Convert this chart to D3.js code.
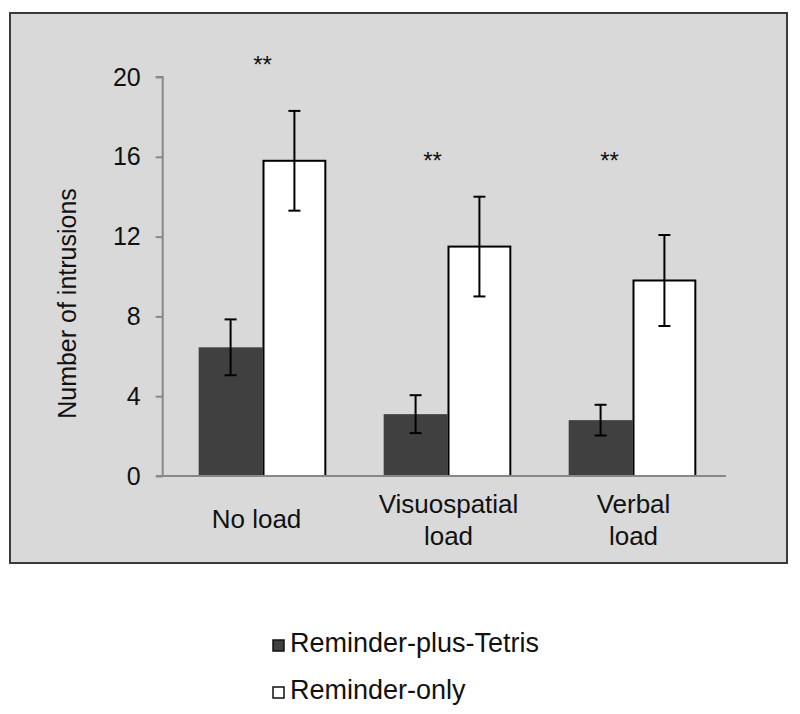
<!DOCTYPE html>
<html>
<head>
<meta charset="utf-8">
<script src="https://cdn.jsdelivr.net/npm/d3@7"></script>
<style>
  html, body { margin: 0; padding: 0; background: #ffffff; }
  svg { display: block; font-family: "Liberation Sans", Arial, Helvetica, sans-serif; }
</style>
</head>
<body>
<svg id="chart" width="800" height="714"></svg>
<script>
// ---- data ----
const categories = [["No load"], ["Visuospatial", "load"], ["Verbal", "load"]];
const seriesNames = ["Reminder-plus-Tetris", "Reminder-only"];
const tetrisMeans = [6.45, 3.1, 2.8];
const tetrisErrors = [1.4, 0.95, 0.77];
const reminderMeans = [15.8, 11.5, 9.8];
const reminderErrors = [2.5, 2.5, 2.28];
const significance = ["**", "**", "**"];
const yTicks = [0, 4, 8, 12, 16, 20];

// ---- layout ----
const svg = d3.select("#chart");
const seriesColors = ["#404040", "#ffffff"];

svg.append("rect")
  .attr("x", 10).attr("y", 13).attr("width", 777).attr("height", 550)
  .attr("fill", "#d9d9d9").attr("stroke", "#3a3a3a").attr("stroke-width", 2);

const y = d3.scaleLinear().domain([0, 20]).range([476, 77]);
const x0 = d3.scaleBand().domain(d3.range(categories.length))
  .range([170, 725]).paddingInner(0.31).paddingOuter(0.155);
const x1 = d3.scaleBand().domain([0, 1]).range([0, x0.bandwidth()]);

// y axis
const yAxis = d3.axisLeft(y).tickValues(yTicks).tickSize(7).tickPadding(15).tickFormat(d3.format("d"));
const gy = svg.append("g").attr("transform", "translate(162.7,0)").call(yAxis);
gy.select(".domain").attr("stroke", "#888").attr("stroke-width", 2).attr("d", `M-7,${y(20)}H0V${y(0)}`);
gy.selectAll(".tick line").attr("stroke", "#888").attr("stroke-width", 2);
gy.selectAll(".tick text").attr("font-size", 25).attr("fill", "#111")
  .attr("font-family", "Liberation Sans, Arial, sans-serif");

svg.append("text")
  .attr("transform", `translate(76,${(y(0) + y(20)) / 2 + 27}) rotate(-90)`)
  .attr("text-anchor", "middle").attr("font-size", 25).attr("fill", "#111")
  .text("Number of intrusions");

// bars
const groups = svg.append("g").selectAll("g").data(categories).join("g")
  .attr("transform", (d, i) => `translate(${x0(i)},0)`);

const barData = (i) => [
  { s: 0, v: tetrisMeans[i], e: tetrisErrors[i] },
  { s: 1, v: reminderMeans[i], e: reminderErrors[i] }
];

groups.each(function (d, i) {
  const g = d3.select(this);
  const bd = barData(i);
  g.selectAll("rect").data(bd).join("rect")
    .attr("x", b => x1(b.s) + (b.s === 1 ? 1 : 0))
    .attr("y", b => y(b.v))
    .attr("width", b => x1.bandwidth() - (b.s === 1 ? 2 : 0))
    .attr("height", b => y(0) - y(b.v))
    .attr("fill", b => seriesColors[b.s])
    .attr("stroke", b => b.s === 1 ? "#000" : "none")
    .attr("stroke-width", 2);
  const cx = b => x1(b.s) + x1.bandwidth() / 2;
  g.selectAll("line.err").data(bd).join("line").attr("class", "err")
    .attr("x1", cx).attr("x2", cx)
    .attr("y1", b => y(b.v + b.e)).attr("y2", b => y(b.v - b.e))
    .attr("stroke", "#000").attr("stroke-width", 2);
  ["+", "-"].forEach(sign => {
    g.selectAll("line.cap" + (sign === "+" ? "t" : "b")).data(bd).join("line")
      .attr("class", "cap" + (sign === "+" ? "t" : "b"))
      .attr("x1", b => cx(b) - 6).attr("x2", b => cx(b) + 6)
      .attr("y1", b => y(sign === "+" ? b.v + b.e : b.v - b.e))
      .attr("y2", b => y(sign === "+" ? b.v + b.e : b.v - b.e))
      .attr("stroke", "#000").attr("stroke-width", 2);
  });
});

// x axis line
svg.append("line")
  .attr("x1", 156).attr("x2", 726).attr("y1", y(0)).attr("y2", y(0))
  .attr("stroke", "#888").attr("stroke-width", 2);

// category labels
categories.forEach((lines, i) => {
  const cx = x0(i) + x0.bandwidth() / 2;
  const t = svg.append("text").attr("text-anchor", "middle")
    .attr("font-size", 26).attr("fill", "#111");
  const base = lines.length === 1 ? 528 : 513;
  lines.forEach((ln, j) => {
    t.append("tspan").attr("x", cx + (i === 0 ? -6 : 1)).attr("y", base + j * 32).text(ln);
  });
});

// significance markers
const sigY = [20.2, 15.4, 15.4];
const sigDx = [0, -15, -23];
significance.forEach((s, i) => {
  svg.append("text")
    .attr("x", x0(i) + x0.bandwidth() / 2 + sigDx[i])
    .attr("y", y(sigY[i]))
    .attr("text-anchor", "middle").attr("font-size", 24).attr("fill", "#111")
    .text(s);
});

// legend
const legend = svg.append("g");
seriesNames.forEach((name, i) => {
  const yy = 652 + i * 47;
  legend.append("rect")
    .attr("x", 273).attr("y", yy - 12).attr("width", 11).attr("height", 11)
    .attr("fill", seriesColors[i]).attr("stroke", "#111").attr("stroke-width", 1.5);
  legend.append("text")
    .attr("x", 290).attr("y", yy)
    .attr("font-size", 27).attr("fill", "#111")
    .text(name);
});
</script>
</body>
</html>
